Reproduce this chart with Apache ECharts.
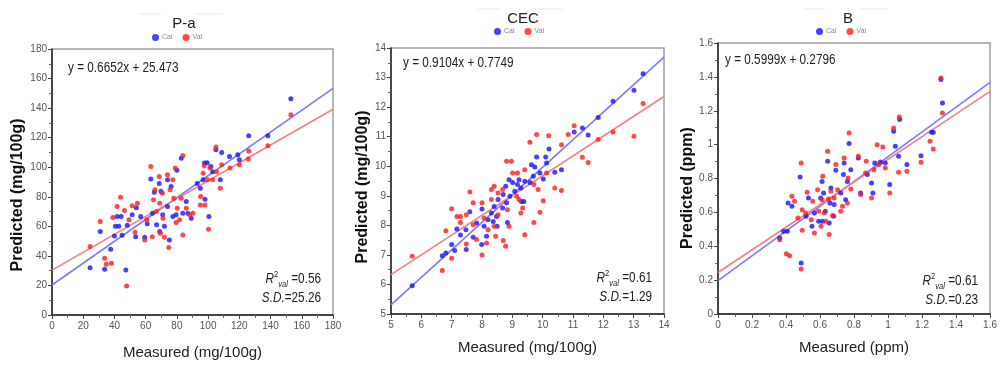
<!DOCTYPE html>
<html>
<head>
<meta charset="utf-8">
<script src="https://cdn.jsdelivr.net/npm/echarts@6/dist/echarts.min.js"></script>
<style>html,body{margin:0;padding:0;background:#fff}#c{width:1000px;height:369px}</style>
</head>
<body>
<div id="c"></div>
<script>
// ---------- data ----------
const paCal = [[24.4,32],[30.9,56.5],[33.7,31],[37.6,44.5],[40,53.5],[40.6,60],[41.7,66.6],[42.8,60],[44.3,66.6],[44.9,54],[47.3,30.5],[48.2,60.7],[51.4,67.8],[54,72.5],[53.6,53],[56.8,66.6],[59.4,52.6],[61,61.7],[63.3,92],[64.4,68.9],[65.5,83],[67,61],[68.7,89],[69,56.5],[69.8,83.8],[70.9,67.8],[72,60],[74,73.4],[75.2,50.8],[74,91.5],[76.3,87],[77.4,66.6],[79.5,67.8],[80,98],[82.8,106],[83.8,68.9],[86,76.8],[87,68.9],[89.2,65.5],[93,89],[95,85.8],[96.8,91.5],[97.7,102.8],[98,78.4],[99.4,103],[100.5,66.6],[101.8,100.5],[102.9,97],[105,111.8],[107.8,91.5],[108.7,110],[113.7,107.3],[119,108.4],[120,105],[126,121.3],[138.3,121.3],[153,146.3]];
const paVal = [[24.4,46.3],[30.9,63.2],[33.7,38.4],[34.8,34.3],[38,35],[39,66],[41.7,73.4],[43.9,79.7],[46.4,70.7],[47.8,19.6],[49.3,64.4],[51.4,74],[53.2,56],[54.7,75.7],[59.4,50.8],[60.7,64.4],[63.3,100.5],[64.2,53],[65,78],[65.9,84.7],[66.8,70],[68.7,93.7],[69,75.7],[69.4,55.3],[70.7,82.4],[71.1,65.5],[72,52.6],[74,94.9],[74.8,45.6],[75.6,84.7],[77.4,91.5],[78,79],[78.9,99.4],[79.5,62.6],[80.2,72.3],[81.7,64.4],[82.8,79],[83.8,54.2],[83.8,108],[86,72.3],[88.2,67.8],[90.3,68.9],[95,74.5],[95.2,80.2],[96.8,96],[97.5,101],[98,74.5],[99.6,91.5],[100.3,58],[101.1,99.4],[102.9,91.5],[105,113.6],[105.4,97],[107.8,85.8],[108.7,101.6],[114,99.4],[120,101.6],[125.7,105.5],[126,111],[138.3,114.5],[153,135.5]];
const paCalFit = [[0,20.3],[180,153.4]];
const paValFit = [[0,30.4],[180,139.2]];

const cecCal = [[5.7,5.96],[6.69,6.97],[6.81,7.06],[7.0,7.35],[7.1,7.15],[7.17,7.88],[7.29,7.67],[7.47,7.85],[7.48,7.18],[7.6,8.46],[7.71,7.6],[7.82,8.08],[7.99,7.35],[8.0,8.55],[8.07,7.97],[8.15,7.63],[8.2,8.19],[8.31,8.42],[8.37,8.13],[8.4,8.64],[8.48,8.3],[8.5,7.97],[8.53,8.87],[8.68,8.59],[8.7,9.04],[8.78,9.32],[8.81,8.76],[8.84,8.1],[8.89,9.54],[8.92,8.98],[9.01,9.45],[9.08,9.15],[9.17,9.38],[9.22,9.54],[9.28,9.26],[9.3,8.81],[9.38,8.81],[9.41,9.49],[9.58,9.45],[9.63,10.05],[9.69,9.66],[9.74,9.97],[9.8,10.31],[9.91,9.77],[10.02,9.57],[10.1,10.31],[10.13,10.11],[10.21,10.58],[10.4,9.8],[10.62,9.88],[11.04,11.16],[11.31,11.29],[11.5,11.06],[11.83,11.65],[12.32,12.2],[13.01,12.57],[13.31,13.13]];
const cecVal = [[5.7,6.95],[6.69,6.47],[6.81,7.82],[7.0,8.56],[7.0,6.89],[7.17,8.3],[7.29,8.3],[7.29,8.1],[7.48,8.36],[7.48,7.37],[7.6,9.13],[7.71,8.76],[7.71,8.02],[7.82,7.52],[8.0,8.76],[8.0,7.0],[8.07,8.25],[8.15,7.4],[8.2,7.85],[8.31,9.21],[8.31,8.87],[8.4,9.32],[8.4,7.97],[8.45,7.63],[8.53,9.09],[8.53,8.36],[8.68,9.21],[8.7,7.49],[8.78,7.29],[8.81,10.17],[8.84,8.53],[8.89,7.97],[8.97,10.17],[9.01,9.77],[9.14,8.98],[9.17,9.77],[9.22,8.87],[9.28,8.42],[9.34,8.59],[9.41,7.68],[9.41,9.88],[9.58,10.81],[9.71,9.38],[9.71,8.1],[9.8,11.07],[9.85,9.21],[9.91,8.44],[10.02,8.83],[10.13,9.77],[10.2,11.03],[10.4,9.26],[10.62,9.18],[10.62,10.73],[10.84,11.07],[11.04,11.37],[11.31,10.3],[11.5,10.13],[11.83,10.9],[12.32,11.16],[13.01,11.01],[13.31,12.12]];
const cecCalFit = [[5,5.31],[14,13.69]];
const cecValFit = [[5,6.33],[14,12.36]];

const bCal = [[0.363,0.449],[0.386,0.488],[0.408,0.488],[0.412,0.656],[0.435,0.636],[0.483,0.809],[0.489,0.301],[0.518,0.577],[0.532,0.685],[0.553,0.518],[0.567,0.596],[0.592,0.547],[0.604,0.685],[0.612,0.783],[0.616,0.547],[0.621,0.715],[0.631,0.606],[0.645,0.902],[0.654,0.537],[0.658,0.656],[0.664,0.744],[0.68,0.577],[0.683,0.646],[0.693,0.848],[0.722,0.715],[0.738,0.823],[0.742,0.892],[0.751,0.675],[0.761,0.783],[0.771,1.006],[0.781,0.852],[0.825,0.921],[0.839,0.715],[0.878,0.823],[0.903,0.774],[0.911,0.715],[0.922,0.892],[0.955,0.898],[0.984,0.892],[1.01,0.764],[1.033,1.079],[1.043,0.99],[1.062,0.931],[1.068,1.148],[1.111,0.882],[1.194,0.935],[1.256,1.073],[1.266,1.073],[1.311,1.384],[1.32,1.246]];
const bVal = [[0.363,0.439],[0.402,0.356],[0.421,0.344],[0.435,0.695],[0.45,0.665],[0.47,0.567],[0.489,0.892],[0.495,0.494],[0.489,0.266],[0.495,0.616],[0.515,0.596],[0.524,0.719],[0.548,0.557],[0.557,0.665],[0.567,0.478],[0.586,0.734],[0.592,0.606],[0.606,0.518],[0.612,0.675],[0.616,0.813],[0.625,0.596],[0.635,0.547],[0.645,0.961],[0.65,0.679],[0.654,0.469],[0.664,0.724],[0.674,0.581],[0.683,0.685],[0.693,0.882],[0.703,0.734],[0.722,0.606],[0.732,0.636],[0.742,0.921],[0.761,0.656],[0.765,0.803],[0.771,1.069],[0.781,0.738],[0.825,0.931],[0.839,0.705],[0.868,0.833],[0.872,0.902],[0.903,0.685],[0.917,0.852],[0.936,1.0],[0.946,0.882],[0.969,0.986],[0.984,0.862],[1.01,0.715],[1.033,1.098],[1.062,0.837],[1.066,1.163],[1.111,0.843],[1.194,0.896],[1.247,1.02],[1.266,0.974],[1.311,1.394],[1.32,1.187]];
const bCalFit = [[0,0.197],[1.6,1.367]];
const bValFit = [[0,0.245],[1.6,1.314]];

const panelTitles = ['P-a','CEC','B'];
const xNames = ['Measured (mg/100g)','Measured (mg/100g)','Measured (ppm)'];
const yNames = ['Predicted (mg/100g)','Predicted (mg/100g)','Predicted (ppm)'];
const axisRanges = [[0,180,20],[5,14,1],[0,1.6,0.2]];
const equations = ['y = 0.6652x + 25.473','y = 0.9104x + 0.7749','y = 0.5999x + 0.2796'];
const r2Values = ['0.56','0.61','0.61'];
const sdValues = ['25.26','1.29','0.23'];
const legendNames = ['Cal','Val'];

// ---------- layout ----------
const grids = [
  {left:52, top:49, width:281, height:266},
  {left:391, top:48, width:273, height:266},
  {left:718, top:43, width:274, height:271}
];
const titlePos = [[179,11],[518,6],[843,6]];
const legendPos = [[152,34],[494,28],[816,28]];
const eqPos = [[68,61],[403,56],[725,53]];
const statPos = [[321,270],[652,269],[978,272]];
const yNameGap = [26,20,22];
const yNameShift = [26,12,19];
const xNameGap = [30,26,26];

const BLUE = '#1414ff', RED = '#ff1c1c';
const labelFont = {fontFamily:'Liberation Sans, sans-serif', fontSize:10, color:'#555'};
const NARROW = 0.84;

const dataSets = [[paCal,paVal,paCalFit,paValFit],[cecCal,cecVal,cecCalFit,cecValFit],[bCal,bVal,bCalFit,bValFit]];

const option = {
  backgroundColor:'#fff',
  animation:false,
  title: panelTitles.map((t,i)=>({text:t, left:titlePos[i][0], top:titlePos[i][1], textAlign:'center',
    textStyle:{fontFamily:'Liberation Sans, sans-serif', fontSize:15, fontWeight:'normal', color:'#222'}})),
  legend: legendPos.map(p=>({data:legendNames, left:p[0], top:p[1], icon:'circle', itemWidth:7, itemHeight:7, itemGap:10,
    padding:0, selectedMode:false, textStyle:{fontSize:7, color:'#888', padding:[0,0,0,-2]}})),
  grid: grids.map(g=>Object.assign({show:true, borderColor:'#a0a0a0', borderWidth:1.5, containLabel:false}, g)),
  xAxis: axisRanges.map((r,i)=>({type:'value', gridIndex:i, min:r[0], max:r[1], interval:r[2],
    name:xNames[i], nameLocation:'middle', nameGap:xNameGap[i],
    nameTextStyle:{fontFamily:'Liberation Sans, sans-serif', fontSize:15, color:'#222'},
    axisLine:{show:true, onZero:false, lineStyle:{color:'#222', width:1.5}},
    axisTick:{show:true, length:4, lineStyle:{color:'#444'}},
    minorTick:{show:true, splitNumber:2, length:3, lineStyle:{color:'#666'}},
    splitLine:{show:false}, axisLabel:Object.assign({margin:6}, labelFont)})),
  yAxis: axisRanges.map((r,i)=>({type:'value', gridIndex:i, min:r[0], max:r[1], interval:r[2],
    name:yNames[i], nameLocation:'middle', nameGap:yNameGap[i],
    nameTextStyle:{fontFamily:'Liberation Sans, sans-serif', fontSize:16, fontWeight:'bold', color:'#111',
      padding:[0,yNameShift[i],0,0]},
    axisLine:{show:true, onZero:false, lineStyle:{color:'#222', width:1.5}},
    axisTick:{show:true, length:4, lineStyle:{color:'#444'}},
    minorTick:{show:true, splitNumber:2, length:3, lineStyle:{color:'#666'}},
    splitLine:{show:false}, axisLabel:Object.assign({margin:5}, labelFont)})),
  series: [],
  graphic: []
};

dataSets.forEach((d,i)=>{
  option.series.push(
    {type:'line', name:'CalFit'+i, xAxisIndex:i, yAxisIndex:i, data:d[2], symbol:'none', z:1,
      lineStyle:{color:'#7a7aff', width:1.6}, silent:true},
    {type:'line', name:'ValFit'+i, xAxisIndex:i, yAxisIndex:i, data:d[3], symbol:'none', z:1,
      lineStyle:{color:'#ff7c7c', width:1.6}, silent:true},
    {type:'scatter', name:'Cal', xAxisIndex:i, yAxisIndex:i, data:d[0], symbolSize:5, z:3,
      itemStyle:{color:BLUE}},
    {type:'scatter', name:'Val', xAxisIndex:i, yAxisIndex:i, data:d[1], symbolSize:5, z:4,
      itemStyle:{color:RED}}
  );
  option.graphic.push(
    {type:'text', x:eqPos[i][0], y:eqPos[i][1], scaleX:NARROW, z:10,
      style:{text:equations[i], font:'14px Liberation Sans, sans-serif', fill:'#222', align:'left', verticalAlign:'top'}},
    {type:'text', x:statPos[i][0], y:statPos[i][1], scaleX:NARROW, z:10,
      style:{text:'{r|R}{sup|2}{sub|val}{n| =' + r2Values[i] + '}\n{r|S.D.}{n|=' + sdValues[i] + '}',
        fill:'#222', align:'right', verticalAlign:'top',
        rich:{
          r:{fontStyle:'italic', fontSize:14, lineHeight:19, fontFamily:'Liberation Sans, sans-serif'},
          n:{fontSize:14, lineHeight:19, fontFamily:'Liberation Sans, sans-serif'},
          sup:{fontSize:9, verticalAlign:'top', lineHeight:19, padding:[0,0,5,0]},
          sub:{fontSize:9, fontStyle:'italic', verticalAlign:'bottom', lineHeight:19, padding:[5,0,0,0]}
        }}},
    {type:'line', shape:{x1:titlePos[i][0]-40, y1:titlePos[i][1]+3, x2:titlePos[i][0]-18, y2:titlePos[i][1]+3}, style:{stroke:'#e6e6e6', lineWidth:1}},
    {type:'line', shape:{x1:titlePos[i][0]+16, y1:titlePos[i][1]+3, x2:titlePos[i][0]+44, y2:titlePos[i][1]+3}, style:{stroke:'#e6e6e6', lineWidth:1}}
  );
});

const chart = echarts.init(document.getElementById('c'), null, {renderer:'canvas'});
chart.setOption(option);
</script>
</body>
</html>
